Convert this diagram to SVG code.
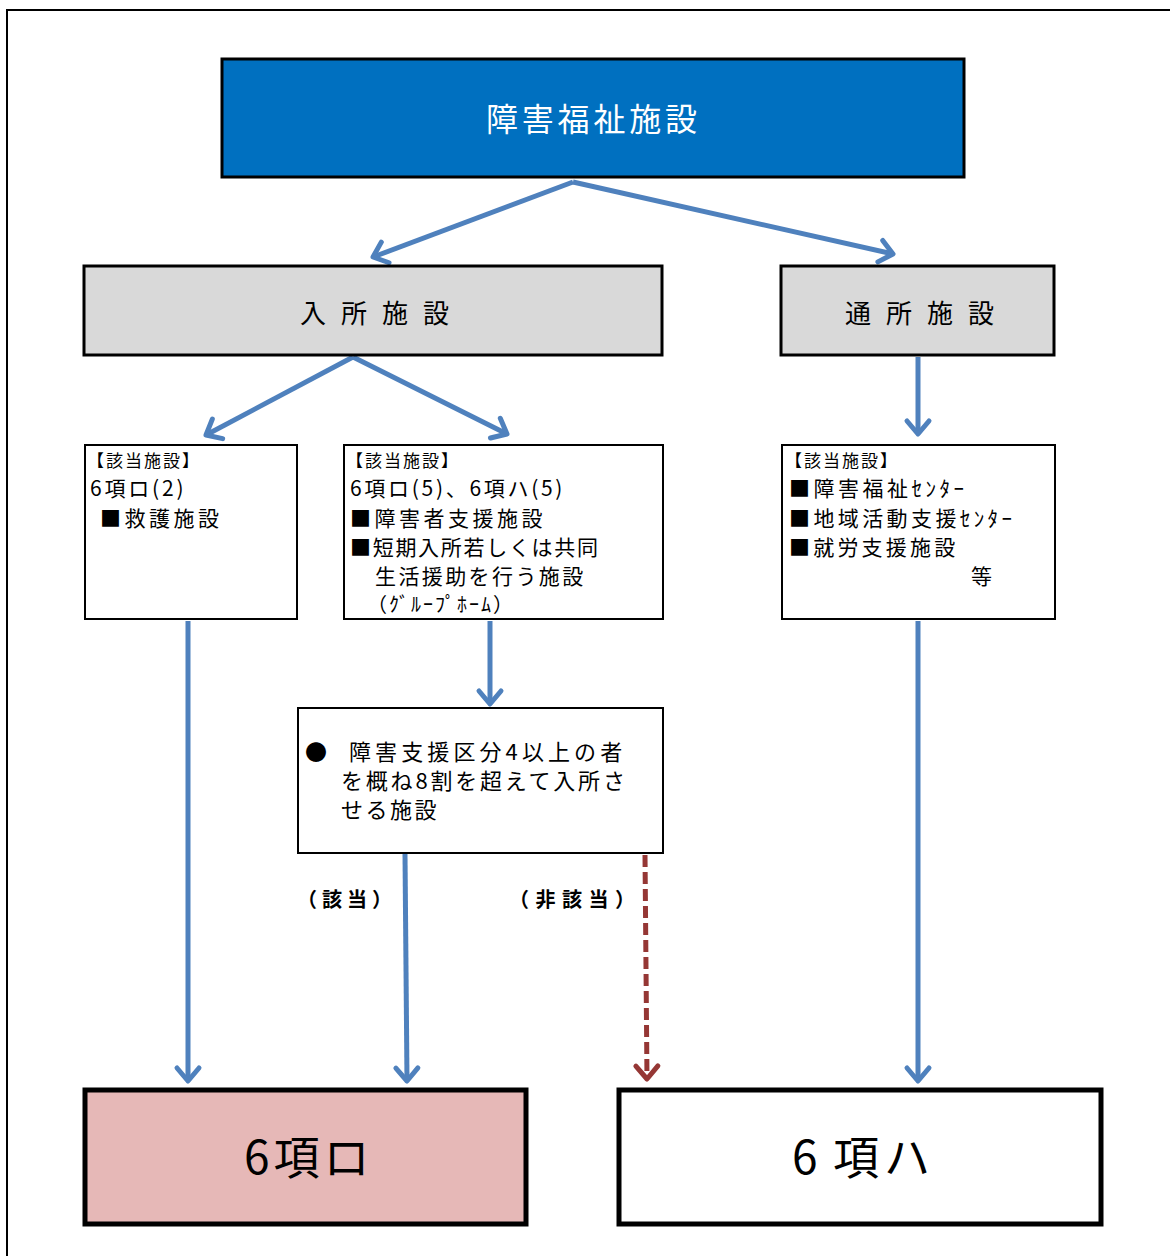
<svg xmlns="http://www.w3.org/2000/svg" width="1170" height="1256" viewBox="0 0 1170 1256">
<defs>
<style>
.t{font-family:"Noto Sans CJK JP","Noto Sans",sans-serif;fill:#000}
.box{fill:#fff;stroke:#000;stroke-width:2}
.conn{fill:none;stroke:#4F81BD;stroke-width:5}
.dash{fill:none;stroke:#953735;stroke-width:5;stroke-dasharray:12 5}
</style>
<marker id="ab" markerUnits="userSpaceOnUse" markerWidth="40" markerHeight="40" viewBox="-20 -20 40 40" refX="0" refY="0" orient="auto">
<path d="M-13,-11 L0,0 L-13,11" fill="none" stroke="#4F81BD" stroke-width="5" stroke-linecap="round" stroke-linejoin="round"/>
</marker>
<marker id="ar" markerUnits="userSpaceOnUse" markerWidth="40" markerHeight="40" viewBox="-20 -20 40 40" refX="0" refY="0" orient="auto">
<path d="M-13,-11 L0,0 L-13,11" fill="none" stroke="#953735" stroke-width="5" stroke-linecap="round" stroke-linejoin="round"/>
</marker>
</defs>
<rect width="1170" height="1256" fill="#fff"/>
<path d="M7,1256 V10 H1170" fill="none" stroke="#000" stroke-width="2"/>

<g id="connectors">
<path class="conn" d="M573,182 L373,257" marker-end="url(#ab)"/>
<path class="conn" d="M573,182 L893,254" marker-end="url(#ab)"/>
<path class="conn" d="M353,357 L206,435" marker-end="url(#ab)"/>
<path class="conn" d="M353,357 L507,434" marker-end="url(#ab)"/>
<path class="conn" d="M918,357 L918,434" marker-end="url(#ab)"/>
<path class="conn" d="M188,621 L188,1081" marker-end="url(#ab)"/>
<path class="conn" d="M490,621 L490,704" marker-end="url(#ab)"/>
<path class="conn" d="M405,854 L407,1081" marker-end="url(#ab)"/>
<path class="conn" d="M918,621 L918,1081" marker-end="url(#ab)"/>
<path class="dash" d="M645,855 L647,1079" marker-end="url(#ar)"/>
</g>

<g id="top">
<rect x="222" y="59" width="742" height="118" fill="#0070C0" stroke="#000" stroke-width="3"/>
<text class="t" x="486" y="131" font-size="32" letter-spacing="3.8" style="fill:#fff">障害福祉施設</text>
</g>

<g id="nyusho">
<rect x="84" y="266" width="578" height="89" fill="#D9D9D9" stroke="#000" stroke-width="3"/>
<text class="t" x="300" y="323" font-size="26" letter-spacing="4.6">入 所 施 設</text>
</g>

<g id="tsusho">
<rect x="781" y="266" width="273" height="89" fill="#D9D9D9" stroke="#000" stroke-width="3"/>
<text class="t" x="845" y="323" font-size="26" letter-spacing="4.6">通 所 施 設</text>
</g>

<g id="boxA">
<rect class="box" x="85" y="445" width="212" height="174"/>
<text class="t" x="87" y="467" font-size="17" letter-spacing="2">【該当施設】</text>
<text class="t" x="90" y="496" font-size="21" letter-spacing="2.8">6項ロ(2)</text>
<text class="t" x="100" y="526" font-size="21" letter-spacing="3.5">■救護施設</text>
</g>

<g id="boxB">
<rect class="box" x="344" y="445" width="319" height="174"/>
<text class="t" x="346" y="467" font-size="17" letter-spacing="2">【該当施設】</text>
<text class="t" x="350" y="496" font-size="21" letter-spacing="2.7">6項ロ(5)、6項ハ(5)</text>
<text class="t" x="350" y="526" font-size="21" letter-spacing="3.5">■障害者支援施設</text>
<text class="t" x="350" y="555" font-size="21" letter-spacing="1.7">■短期入所若しくは共同</text>
<text class="t" x="375" y="584" font-size="21" letter-spacing="2.4">生活援助を行う施設</text>
<text class="t" x="367" y="612" font-size="20" letter-spacing="2">（ｸﾞﾙｰﾌﾟﾎｰﾑ）</text>
</g>

<g id="boxC">
<rect class="box" x="782" y="445" width="273" height="174"/>
<text class="t" x="785" y="467" font-size="17" letter-spacing="2">【該当施設】</text>
<text class="t" x="789" y="496" font-size="21" letter-spacing="3.5">■障害福祉ｾﾝﾀｰ</text>
<text class="t" x="789" y="526" font-size="21" letter-spacing="3.4">■地域活動支援ｾﾝﾀｰ</text>
<text class="t" x="789" y="555" font-size="21" letter-spacing="3.2">■就労支援施設</text>
<text class="t" x="971" y="584" font-size="21">等</text>
</g>

<g id="boxD">
<rect class="box" x="298" y="708" width="365" height="145"/>
<text class="t" x="305" y="760" font-size="22">●<tspan x="349" letter-spacing="4.1">障害支援区分4以上の者</tspan></text>
<text class="t" x="341" y="789" font-size="22" letter-spacing="2.8">を概ね8割を超えて入所さ</text>
<text class="t" x="341" y="818" font-size="22" letter-spacing="2.5">せる施設</text>
</g>

<g id="labels">
<text class="t" x="297" y="907" font-size="20" font-weight="bold" letter-spacing="5">（該当）</text>
<text class="t" x="509" y="907" font-size="20" font-weight="bold" letter-spacing="6.5">（非該当）</text>
</g>

<g id="roku-ro">
<rect x="85" y="1090" width="441" height="134" fill="#E6B8B7" stroke="#000" stroke-width="5"/>
<text class="t" x="244" y="1174" font-size="46" letter-spacing="4">6項ロ</text>
</g>

<g id="roku-ha">
<rect x="619" y="1090" width="482" height="134" fill="#fff" stroke="#000" stroke-width="5"/>
<text class="t" x="792" y="1174" font-size="46" letter-spacing="4">6<tspan x="833">項</tspan><tspan x="884">ハ</tspan></text>
</g>
</svg>
